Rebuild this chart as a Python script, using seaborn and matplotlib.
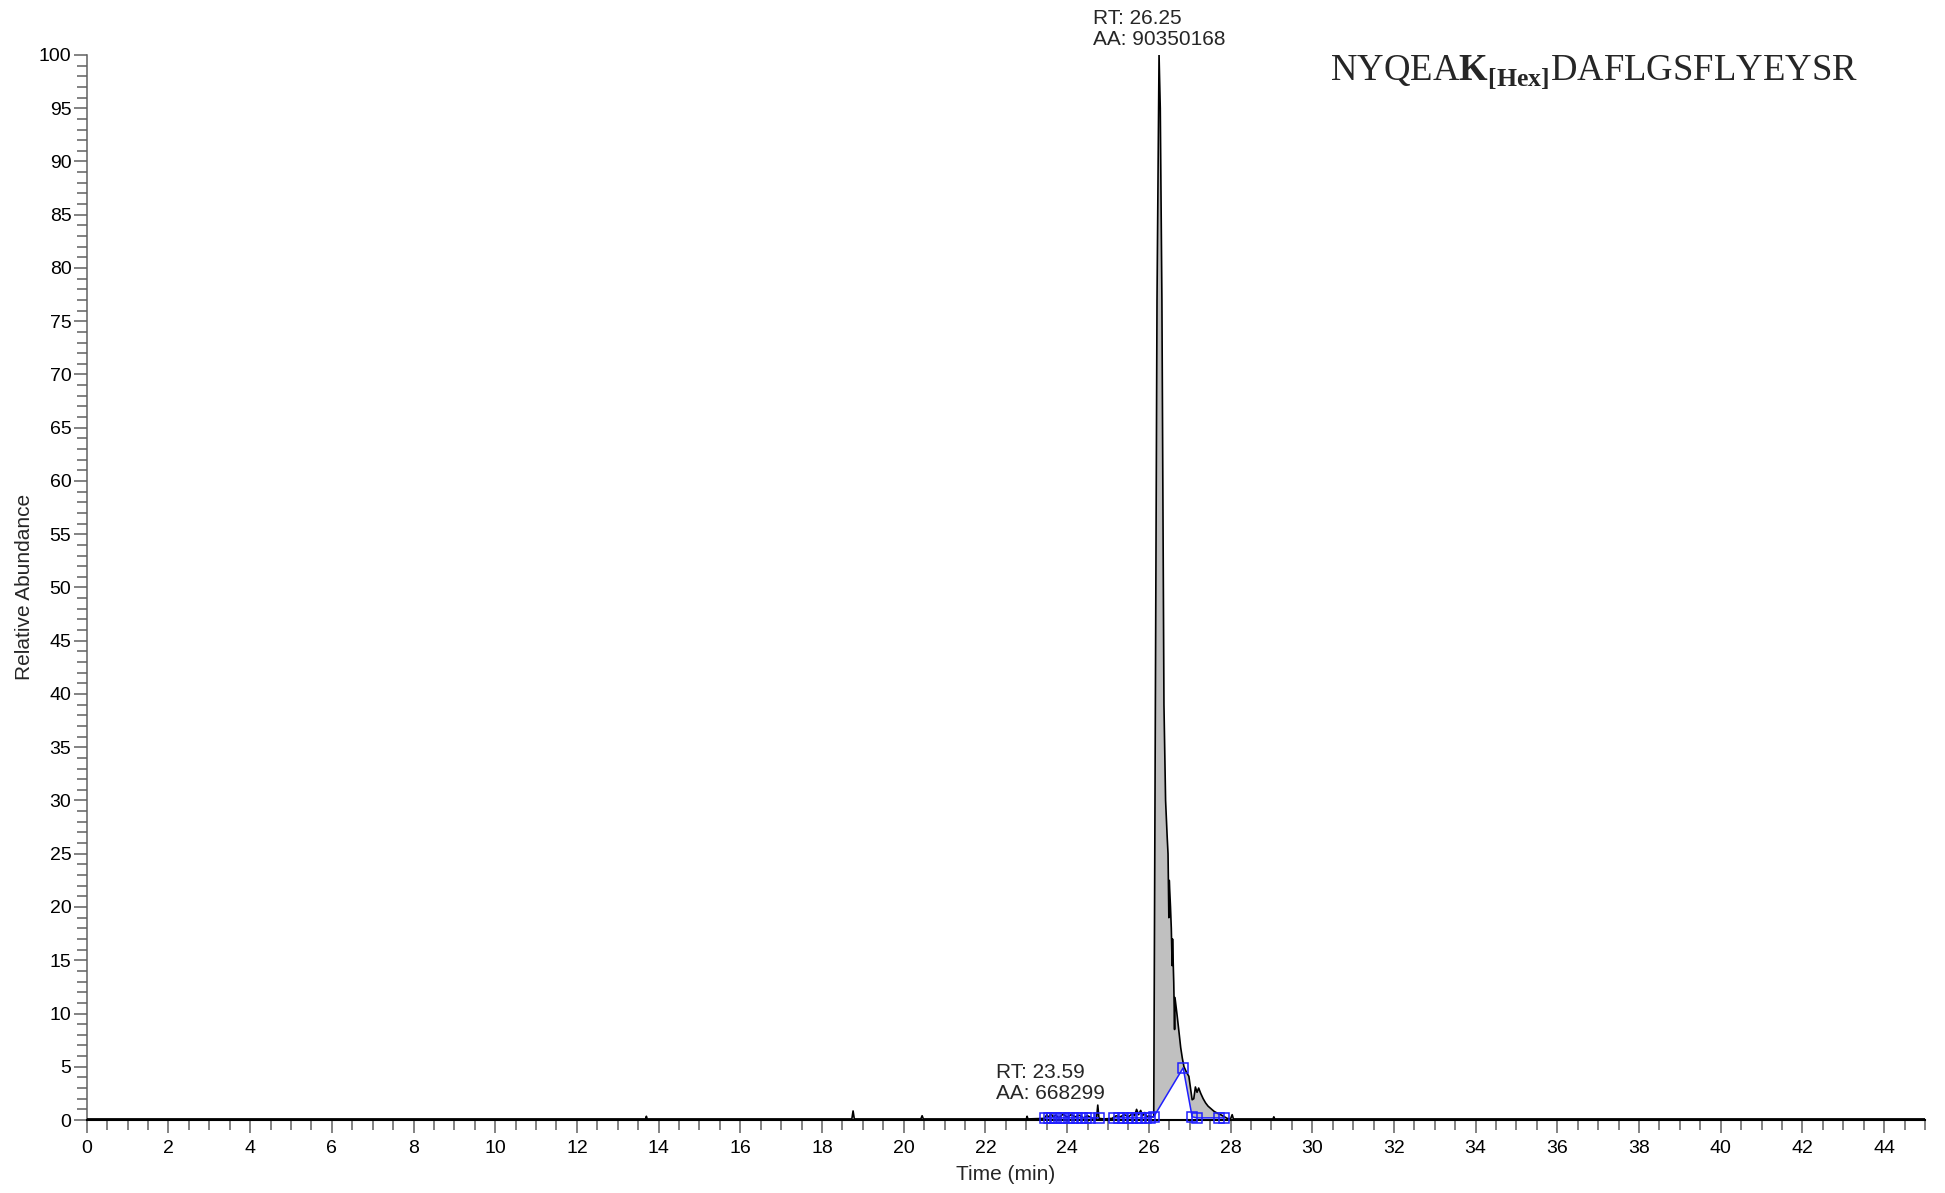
import numpy as np
import pandas as pd
import seaborn as sns
import matplotlib.pyplot as plt
from matplotlib.ticker import MultipleLocator

# chromatogram trace (time in min, relative abundance)
rt_min = [
    0.00, 13.68, 13.70, 13.72, 18.73, 18.76, 18.79, 20.42, 20.45, 20.48,
    23.00, 23.02, 23.04, 23.45, 23.50, 23.55, 23.60, 23.66, 23.72, 23.80,
    23.90, 24.00, 24.10, 24.20, 24.30, 24.40, 24.50, 24.60, 24.72, 24.75,
    24.78, 24.90, 25.10, 25.20, 25.30, 25.40, 25.50, 25.60, 25.65, 25.70,
    25.75, 25.80, 25.85, 25.90, 25.95, 26.00, 26.06, 26.12, 26.16, 26.20,
    26.25, 26.28, 26.32, 26.37, 26.41, 26.45, 26.47, 26.49, 26.50, 26.53,
    26.55, 26.57, 26.58, 26.61, 26.63, 26.64, 26.69, 26.74, 26.78, 26.82,
    26.86, 26.92, 26.98, 27.02, 27.06, 27.10, 27.14, 27.18, 27.22, 27.27,
    27.33, 27.39, 27.45, 27.51, 27.60, 27.70, 27.76, 27.85, 27.92, 28.00,
    28.04, 28.07, 29.04, 29.06, 29.08, 45.00,
]
rel_abund = [
    0.10, 0.10, 0.35, 0.10, 0.10, 0.85, 0.10, 0.10, 0.40, 0.10,
    0.10, 0.35, 0.10, 0.15, 0.50, 0.25, 0.60, 0.30, 0.45, 0.20,
    0.55, 0.25, 0.50, 0.30, 0.45, 0.20, 0.40, 0.20, 0.15, 1.40,
    0.15, 0.10, 0.15, 0.40, 0.30, 0.50, 0.30, 0.60, 0.40, 1.00,
    0.50, 0.90, 0.40, 0.70, 0.30, 0.40, 0.30, 0.30, 39.0, 77.0,
    100.0, 95.0, 77.0, 39.0, 30.0, 26.5, 25.0, 19.0, 22.5, 20.0,
    18.0, 14.5, 17.0, 12.9, 8.5, 11.5, 9.9, 8.2, 6.8, 5.8,
    5.0, 4.5, 4.1, 3.0, 1.9, 2.0, 3.1, 2.6, 3.0, 2.5,
    2.0, 1.6, 1.3, 1.1, 0.8, 0.6, 0.5, 0.3, 0.15, 0.10,
    0.50, 0.10, 0.10, 0.30, 0.10, 0.10,
]

# integration baseline under the main peak (grey area sits above it)
base_rt = [26.12, 26.84, 27.06, 27.92]
base_y = [0.3, 4.9, 0.3, 0.15]

# blue peak-detection markers (nan splits the segments)
det_rt = [23.47, 23.56, 23.64, 23.73, 23.84, 23.93, 24.04, 24.14, 24.25, 24.36,
          24.47, 24.57, 24.77, np.nan, 25.14, 25.26, 25.36, 25.48, 25.58, 25.70,
          25.80, 25.92, 26.02, 26.12, 26.84, 27.06, 27.18, 27.72, 27.83]
det_y = [0.2, 0.2, 0.2, 0.2, 0.2, 0.2, 0.2, 0.2, 0.2, 0.2,
         0.2, 0.2, 0.2, np.nan, 0.2, 0.2, 0.2, 0.2, 0.2, 0.2,
         0.2, 0.2, 0.2, 0.3, 4.9, 0.3, 0.2, 0.2, 0.2]

peak_labels = [("RT: 26.25\nAA: 90350168", 26.25, 100.6),
               ("RT: 23.59\nAA: 668299", 23.59, 1.6)]

df = pd.DataFrame({"rt": rt_min, "abund": rel_abund})

sns.set_theme(style="ticks")
plt.rcParams["font.family"] = ["Liberation Sans", "DejaVu Sans"]
plt.rcParams["mathtext.fontset"] = "custom"
plt.rcParams["mathtext.rm"] = "Liberation Serif"
plt.rcParams["mathtext.bf"] = "Liberation Serif:bold"

fig = plt.figure(figsize=(19.45, 11.93), dpi=100)
ax = fig.add_axes([0.04458, 0.06119, 0.94514, 0.89271])

# grey integrated area
peak = df[(df.rt >= 26.12) & (df.rt <= 27.92)]
ax.fill(list(peak.rt) + base_rt[::-1], list(peak.abund) + base_y[::-1],
        color="#c0c0c0", lw=0, zorder=1)

sns.lineplot(data=df, x="rt", y="abund", color="black", lw=1.2,
             estimator=None, sort=False, ax=ax, zorder=3)
ax.plot(det_rt, det_y, color="#1f1fff", lw=1.1, marker="s", ms=6.5,
        mfc="none", mec="#1f1fff", mew=1.1, zorder=4, clip_on=False)

for txt, x, y in peak_labels:
    ax.text(x, y, txt, ha="center", va="bottom", multialignment="left",
            fontsize=15, linespacing=1.1, clip_on=False)

ax.set_xlim(0, 45)
ax.set_ylim(0, 100)
ax.xaxis.set_major_locator(MultipleLocator(2))
ax.xaxis.set_minor_locator(MultipleLocator(0.5))
ax.yaxis.set_major_locator(MultipleLocator(5))
ax.yaxis.set_minor_locator(MultipleLocator(1))
ax.tick_params(axis="both", which="major", length=9.5, width=1.1,
               color="#606060", labelsize=14, labelcolor="black")
ax.tick_params(axis="both", which="minor", length=7, width=1.1, color="#606060")
ax.tick_params(axis="x", which="major", pad=5)
ax.tick_params(axis="y", which="major", pad=1.5)

sns.despine(ax=ax)
ax.spines["left"].set_color("#606060")
ax.spines["left"].set_linewidth(1.1)
ax.spines["bottom"].set_color("black")
ax.spines["bottom"].set_linewidth(1.5)
ax.set_xlabel("")
ax.set_ylabel("")

fig.text(25 / 1945, 0.508, "Relative Abundance", rotation=90,
         ha="center", va="center", fontsize=15)
fig.text(1006 / 1945, 1 - 1175 / 1193, "Time (min)",
         ha="center", va="center", fontsize=15)

fig.text(1330 / 1945, 1 - 80 / 1193,
         r"NYQEA$\mathbf{K}_{\mathbf{[Hex]}}$DAFLGSFLYEYSR",
         family="Liberation Serif", fontsize=26.5, ha="left", va="baseline")

plt.savefig("out.png", dpi=100)
